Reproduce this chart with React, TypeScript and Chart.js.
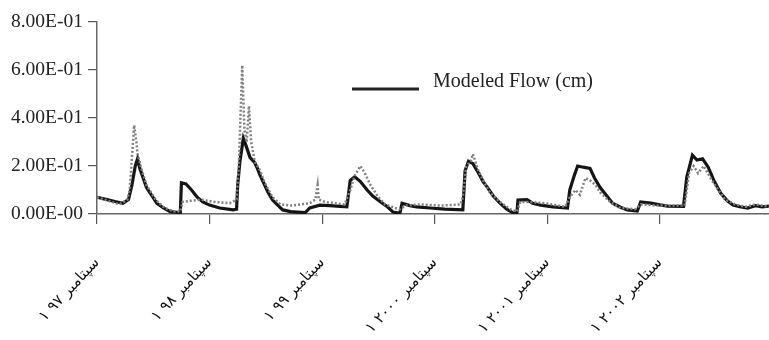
import React, { useEffect, useRef } from "react";
import { Chart, registerables } from "chart.js";

Chart.register(...registerables);

// x positions in years since start of record
const xLabels = [
  "۱ سپتامبر ۹۷",
  "۱ سپتامبر ۹۸",
  "۱ سپتامبر ۹۹",
  "۱ سپتامبر ۲۰۰۰",
  "۱ سپتامبر ۲۰۰۱",
  "۱ سپتامبر ۲۰۰۲",
];
const yLabels = ["0.00E-00", "2.00E-01", "4.00E-01", "6.00E-01", "8.00E-01"];

const modT = [
  0.0, 0.07, 0.16, 0.23, 0.28, 0.31, 0.34, 0.36, 0.38, 0.41, 0.44, 0.49, 0.53, 0.59, 0.65, 0.74,
  0.75, 0.79, 0.84, 0.89, 0.94, 1.0, 1.09, 1.21, 1.24, 1.25, 1.27, 1.3, 1.32, 1.36, 1.4, 1.42,
  1.45, 1.48, 1.52, 1.56, 1.61, 1.65, 1.72, 1.78, 1.85, 1.89, 1.98, 2.07, 2.16, 2.22, 2.25, 2.29,
  2.34, 2.4, 2.45, 2.52, 2.58, 2.63, 2.69, 2.71, 2.78, 2.84, 2.96, 3.09, 3.25, 3.27, 3.3, 3.34,
  3.39, 3.43, 3.47, 3.52, 3.58, 3.64, 3.7, 3.73, 3.74, 3.82, 3.87, 3.94, 4.05, 4.18, 4.2, 4.24,
  4.27, 4.32, 4.38, 4.42, 4.47, 4.53, 4.58, 4.65, 4.71, 4.8, 4.83, 4.92, 5.0, 5.07, 5.21, 5.24,
  5.29, 5.33, 5.38, 5.43, 5.48, 5.54, 5.6, 5.65, 5.71, 5.78, 5.85, 5.91, 5.97,
];
const modV = [
  0.07, 0.062, 0.052, 0.045, 0.06, 0.12, 0.2, 0.23, 0.19, 0.15, 0.11, 0.075, 0.045, 0.025, 0.01, 0.005,
  0.13, 0.125, 0.1, 0.07, 0.05, 0.037, 0.025, 0.017, 0.02, 0.12, 0.22, 0.315, 0.29, 0.235, 0.215, 0.195,
  0.16, 0.13, 0.09, 0.058, 0.035, 0.017, 0.01, 0.008, 0.006, 0.025, 0.037, 0.035, 0.032, 0.03, 0.14, 0.155,
  0.135, 0.1, 0.075, 0.05, 0.03, 0.008, 0.003, 0.045, 0.035, 0.03, 0.025, 0.02, 0.017, 0.18, 0.22, 0.21,
  0.17, 0.135, 0.11, 0.075, 0.045, 0.02, 0.004, 0.003, 0.058, 0.06, 0.045, 0.037, 0.03, 0.025, 0.1, 0.16,
  0.2, 0.195, 0.19, 0.15, 0.11, 0.075, 0.045, 0.028, 0.017, 0.012, 0.05, 0.045, 0.038, 0.033, 0.032, 0.155,
  0.245, 0.225, 0.23, 0.195, 0.14, 0.087, 0.055, 0.037, 0.03, 0.025, 0.035, 0.03, 0.033,
];

const obsT = [
  0.0, 0.2, 0.27, 0.29, 0.32, 0.33, 0.35, 0.36, 0.4, 0.44, 0.52, 0.6, 0.69, 0.74, 0.76, 0.83,
  0.92, 1.05, 1.18, 1.24, 1.26, 1.29, 1.31, 1.33, 1.35, 1.37, 1.4, 1.45, 1.49, 1.56, 1.63, 1.72,
  1.81, 1.89, 1.94, 1.96, 1.97, 2.03, 2.12, 2.2, 2.25, 2.29, 2.34, 2.38, 2.43, 2.5, 2.56, 2.65,
  2.69, 2.74, 2.87, 3.05, 3.23, 3.25, 3.28, 3.32, 3.34, 3.38, 3.43, 3.49, 3.58, 3.67, 3.73, 3.76,
  3.84, 3.98, 4.16, 4.2, 4.25, 4.29, 4.34, 4.38, 4.43, 4.47, 4.56, 4.65, 4.78, 4.83, 5.0, 5.22,
  5.26, 5.3, 5.34, 5.39, 5.45, 5.52, 5.58, 5.67, 5.76, 5.85, 5.97,
];
const obsV = [
  0.07, 0.04, 0.06, 0.1, 0.3, 0.37, 0.3, 0.25, 0.18, 0.12, 0.06, 0.025, 0.01, 0.01, 0.05, 0.055,
  0.06, 0.05, 0.045, 0.06, 0.2, 0.62, 0.35, 0.3, 0.45, 0.3, 0.22, 0.18, 0.13, 0.07, 0.04, 0.035,
  0.04, 0.045, 0.06, 0.12, 0.06, 0.05, 0.045, 0.04, 0.1, 0.16, 0.2, 0.17, 0.12, 0.07, 0.04, 0.025,
  0.02, 0.035, 0.04, 0.035, 0.04, 0.07, 0.2, 0.22, 0.25, 0.19, 0.14, 0.09, 0.05, 0.02, 0.01, 0.05,
  0.05, 0.045, 0.03, 0.07, 0.1, 0.08, 0.15, 0.14, 0.12, 0.09, 0.05, 0.025, 0.02, 0.04, 0.035, 0.035,
  0.17, 0.2, 0.17, 0.2, 0.15, 0.1, 0.06, 0.04, 0.03, 0.04, 0.03,
];

const legendText = "Modeled Flow (cm)";

const legendPlugin = {
  id: "customLegend",
  afterDraw(chart: any) {
    const ctx = chart.ctx;
    ctx.save();
    ctx.strokeStyle = "#222";
    ctx.lineWidth = 3;
    ctx.beginPath();
    ctx.moveTo(352, 89);
    ctx.lineTo(419, 89);
    ctx.stroke();
    ctx.fillStyle = "#222";
    ctx.font = "20px 'Liberation Serif'";
    ctx.textBaseline = "alphabetic";
    ctx.textAlign = "left";
    ctx.fillText(legendText, 433, 87);
    ctx.restore();
  },
};

export default function App() {
  const ref = useRef<HTMLCanvasElement>(null);
  useEffect(() => {
    document.body.style.margin = "0";
    const chart = new Chart(ref.current!, {
      type: "line",
      data: {
        datasets: [
          {
            label: "Observed Flow (cm)",
            data: obsT.map((t, i) => ({ x: t, y: obsV[i] })),
            borderColor: "#808080",
            borderWidth: 2.5,
            borderDash: [2, 2],
            pointRadius: 0,
            tension: 0,
          },
          {
            label: legendText,
            data: modT.map((t, i) => ({ x: t, y: modV[i] })),
            borderColor: "#151515",
            borderWidth: 3.2,
            pointRadius: 0,
            tension: 0,
          },
        ],
      },
      options: {
        animation: false,
        responsive: false,
        layout: { padding: { top: 22, left: 0, right: 0, bottom: 0 } },
        plugins: { legend: { display: false }, tooltip: { enabled: false } },
        scales: {
          x: {
            type: "linear",
            min: 0,
            max: 5.97,
            afterFit: (s: any) => {
              s.height = 126;
            },
            grid: { drawOnChartArea: false, tickLength: 10, color: "#555", lineWidth: 1.2 },
            border: { color: "#666", width: 1.5, dash: [6, 2, 2, 2] },
            ticks: {
              stepSize: 1,
              includeBounds: false,
              minRotation: 47,
              maxRotation: 47,
              autoSkip: false,
              padding: 30,
              color: "#111",
              font: { family: "'DejaVu Sans'", size: 15 },
              callback: (v: any) => {
                const i = Math.round(Number(v));
                return Math.abs(Number(v) - i) < 1e-6 ? xLabels[i] ?? "" : "";
              },
            },
          },
          y: {
            min: 0,
            max: 0.8,
            afterFit: (s: any) => {
              s.width = 97;
            },
            grid: { drawOnChartArea: false, tickLength: 9, color: "#555", lineWidth: 1.2 },
            border: { color: "#666", width: 1.5, dash: [6, 2, 2, 2] },
            ticks: {
              stepSize: 0.2,
              padding: 5,
              color: "#222",
              font: { family: "'Liberation Serif'", size: 19.5 },
              callback: (v: any) => yLabels[Math.round(Number(v) / 0.2)] ?? "",
            },
          },
        },
      },
      plugins: [legendPlugin],
    });
    return () => chart.destroy();
  }, []);
  return (
    <div style={{ width: 769, height: 340 }}>
      <canvas ref={ref} width={769} height={340} style={{ width: 769, height: 340, display: "block" }} />
    </div>
  );
}
